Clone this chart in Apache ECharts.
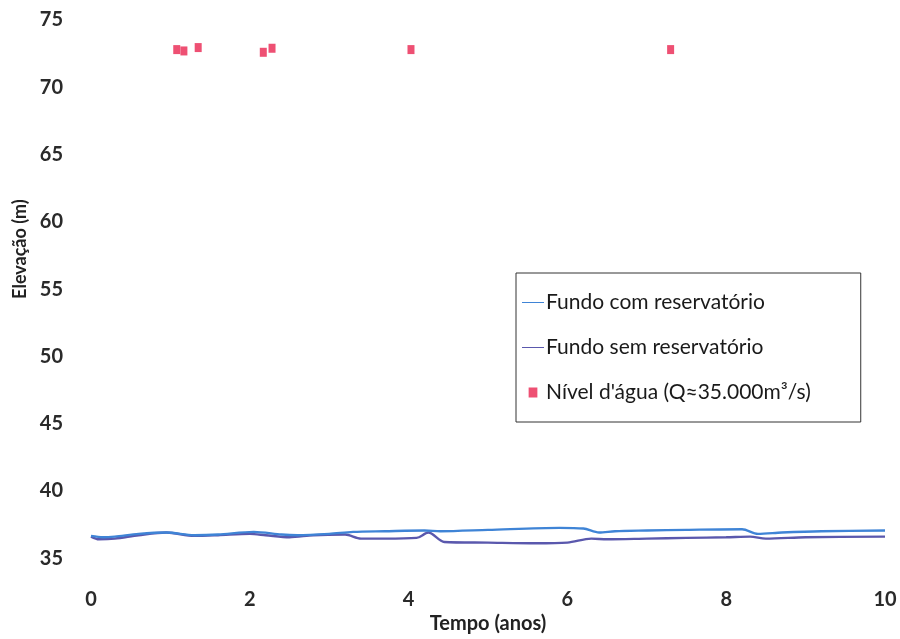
<!DOCTYPE html>
<html>
<head>
<meta charset="utf-8">
<title>Elevação do fundo e nível d'água</title>
<script src="https://cdn.jsdelivr.net/npm/echarts@6/dist/echarts.min.js"></script>
<style>
  html, body { margin: 0; padding: 0; background: #ffffff; }
  #chart { width: 900px; height: 639px; }
</style>
</head>
<body>
<div id="chart"></div>
<script>
// Tempo (anos) e elevação (m) do fundo com reservatório
const comTempo = [0, 0.15, 0.3, 0.6, 0.95, 1.3, 1.6, 2.05, 2.4, 2.6, 3.0, 3.3, 3.7, 4.2, 4.4, 5.0, 5.9, 6.2, 6.4, 6.6, 7.0, 7.5, 8.2, 8.4, 8.7, 9.2, 10.0];
const comElev  = [36.65, 36.55, 36.6, 36.8, 36.9, 36.7, 36.75, 36.95, 36.75, 36.7, 36.8, 36.95, 37.0, 37.05, 37.0, 37.1, 37.25, 37.2, 36.9, 37.0, 37.05, 37.1, 37.15, 36.8, 36.9, 37.0, 37.05];

// Tempo (anos) e elevação (m) do fundo sem reservatório
const semTempo = [0, 0.1, 0.3, 0.6, 0.95, 1.3, 1.6, 2.0, 2.2, 2.5, 2.8, 3.2, 3.4, 3.7, 4.1, 4.25, 4.45, 5.0, 5.6, 6.0, 6.3, 6.5, 7.0, 7.5, 8.0, 8.3, 8.5, 9.0, 10.0];
const semElev  = [36.6, 36.4, 36.45, 36.7, 36.9, 36.65, 36.7, 36.8, 36.7, 36.55, 36.7, 36.75, 36.45, 36.45, 36.5, 36.9, 36.2, 36.15, 36.1, 36.15, 36.45, 36.4, 36.45, 36.5, 36.55, 36.6, 36.45, 36.55, 36.6];

// Nível d'água observado para Q≈35.000 m³/s
const nivelTempo = [1.08, 1.17, 1.35, 2.17, 2.28, 4.03, 7.30];
const nivelElev  = [72.8, 72.7, 72.95, 72.6, 72.9, 72.8, 72.8];

// Eixos
const xTicks = { min: 0, max: 10, interval: 2 };
const yTicks = { min: 35, max: 75, interval: 5 };

const seriesNames = ['Fundo com reservatório', 'Fundo sem reservatório', "Nível d'água (Q≈35.000m³/s)"];

const pairs = (xs, ys) => xs.map((x, i) => [x, ys[i]]);

const fontFamily = 'Lato, "Open Sans", sans-serif';

const chart = echarts.init(document.getElementById('chart'), null, { renderer: 'canvas' });

chart.setOption({
  backgroundColor: '#ffffff',
  animation: false,
  textStyle: { fontFamily: fontFamily },
  grid: { left: 91, right: 15, top: 20, bottom: 52, containLabel: false },
  legend: {
    orient: 'vertical',
    left: 516,
    top: 273,
    padding: [19, 50, 19, 6],
    itemGap: 24,
    itemWidth: 22,
    itemHeight: 10,
    borderColor: '#333333',
    borderWidth: 1,
    textStyle: { fontFamily: fontFamily, fontSize: 21, color: '#1a1a1a', padding: [0, 0, 0, -3] },
    data: [
      { name: seriesNames[0], icon: 'path://M0,4.5 L22,4.5 L22,5.5 L0,5.5 Z' },
      { name: seriesNames[1], icon: 'path://M0,4.5 L22,4.5 L22,5.5 L0,5.5 Z' },
      { name: seriesNames[2], icon: 'path://M8,1 L15,1 L15,9 L8,9 Z' }
    ]
  },
  xAxis: {
    type: 'value',
    min: xTicks.min,
    max: xTicks.max,
    interval: xTicks.interval,
    name: 'Tempo (anos)',
    nameLocation: 'middle',
    nameGap: 55,
    nameTextStyle: { fontFamily: fontFamily, fontSize: 20, fontWeight: 'bold', color: '#222222' },
    axisLine: { show: false },
    axisTick: { show: false },
    splitLine: { show: false },
    axisLabel: { margin: 31, fontSize: 20, fontWeight: 'bold', color: '#2a2a2a', fontFamily: fontFamily }
  },
  yAxis: {
    type: 'value',
    min: yTicks.min,
    max: yTicks.max,
    interval: yTicks.interval,
    name: 'Elevação (m)',
    nameLocation: 'middle',
    nameGap: 57,
    nameRotate: 90,
    nameTextStyle: { fontFamily: fontFamily, fontSize: 18, fontWeight: 'bold', color: '#222222', padding: [0, 0, 0, 80] },
    axisLine: { show: false },
    axisTick: { show: false },
    splitLine: { show: false },
    axisLabel: { margin: 28, fontSize: 20, fontWeight: 'bold', color: '#2a2a2a', fontFamily: fontFamily, align: 'right' }
  },
  series: [
    {
      name: seriesNames[0],
      type: 'line',
      data: pairs(comTempo, comElev),
      showSymbol: false,
      symbol: 'none',
      smooth: 0.3,
      lineStyle: { color: '#3f84d6', width: 2.4 },
      itemStyle: { color: '#3f84d6' },
      z: 3
    },
    {
      name: seriesNames[1],
      type: 'line',
      data: pairs(semTempo, semElev),
      showSymbol: false,
      symbol: 'none',
      smooth: 0.3,
      lineStyle: { color: '#5a58ad', width: 2.4 },
      itemStyle: { color: '#5a58ad' },
      z: 2
    },
    {
      name: seriesNames[2],
      type: 'scatter',
      data: pairs(nivelTempo, nivelElev),
      symbol: 'rect',
      symbolSize: [7, 9],
      itemStyle: { color: '#ea2450' },
      z: 4
    }
  ]
});
</script>
</body>
</html>
